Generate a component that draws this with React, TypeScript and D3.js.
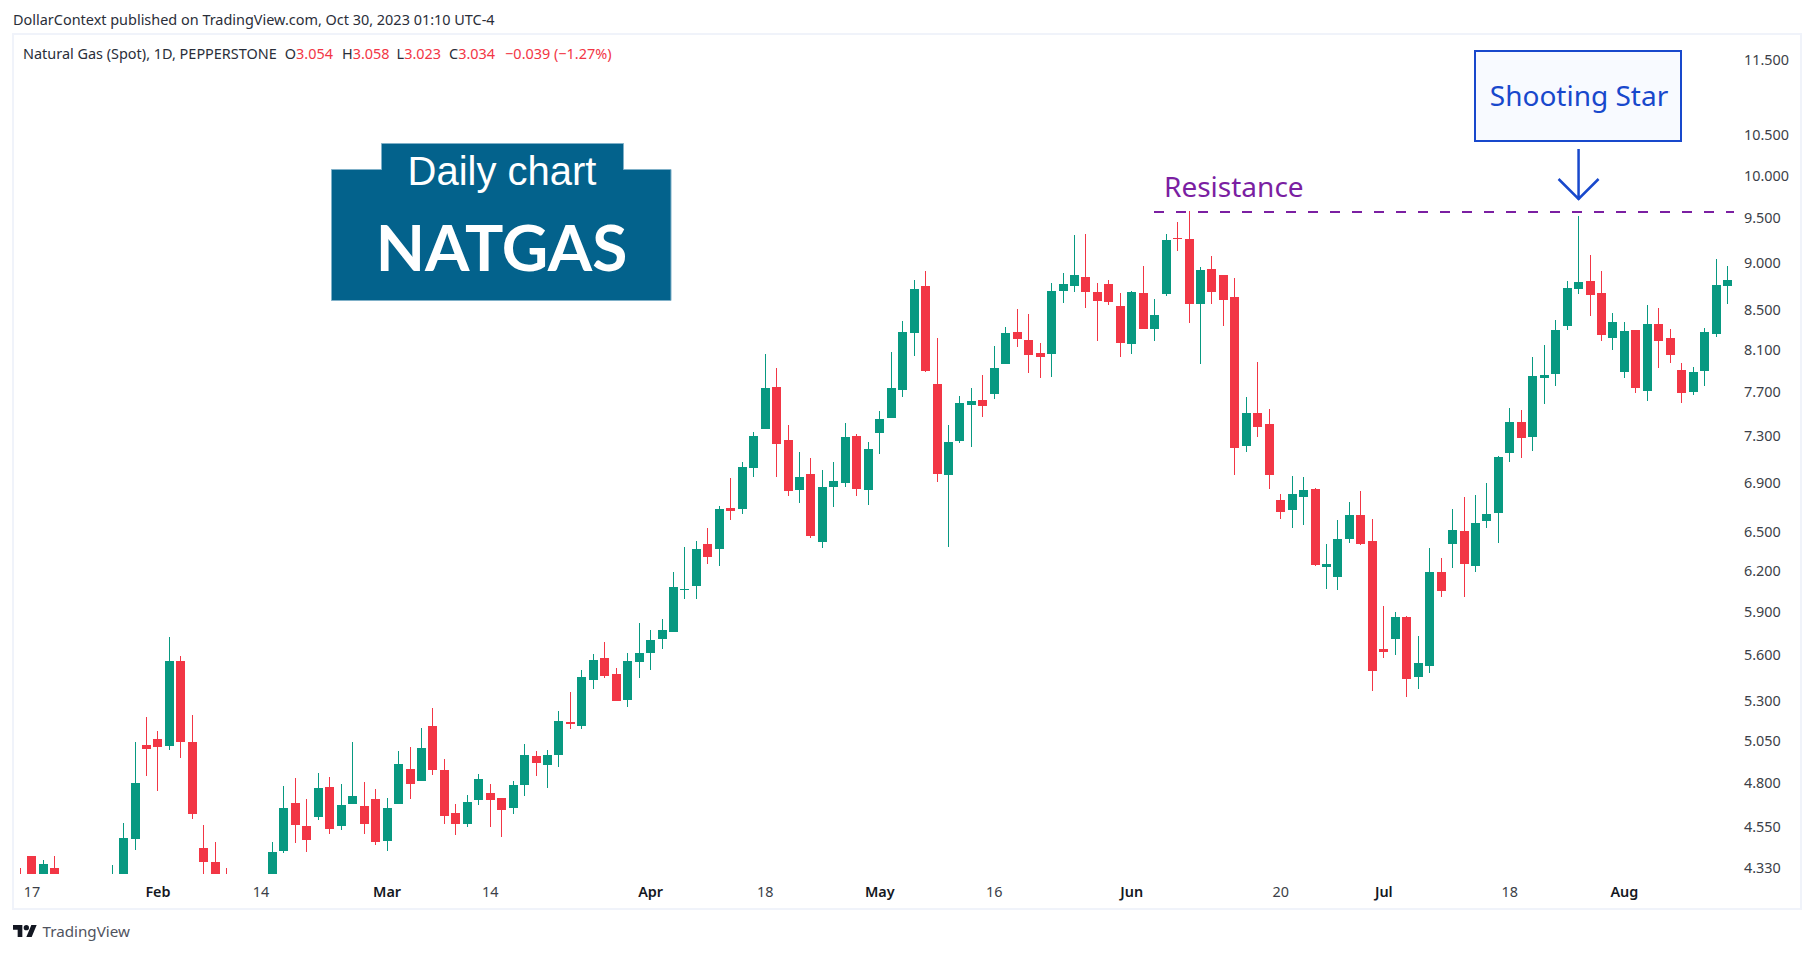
import { useEffect, useRef } from 'react';
import * as d3 from 'd3';

const opens = [
  4.272, 4.397, 4.262, 4.334, 4.26, 4.2, 4.16, 4.2, 4.21, 4.25,
  4.488, 5.029, 5.065, 5.023, 5.566, 5.047, 4.44, 4.365, 4.272, 4.24,
  4.2, 4.18, 4.272, 4.424, 4.688, 4.56, 4.61, 4.779, 4.56, 4.682,
  4.671, 4.711, 4.478, 4.682, 4.885, 4.814, 5.146, 4.879, 4.632, 4.571,
  4.705, 4.745, 4.716, 4.66, 4.791, 4.962, 4.908, 4.968, 5.171, 5.146,
  5.44, 5.587, 5.48, 5.31, 5.56, 5.621, 5.716, 5.764, 6.065, 6.094,
  6.411, 6.373, 6.696, 6.688, 7.028, 7.368, 7.751, 7.27, 6.844, 6.977,
  6.427, 6.869, 6.902, 7.305, 6.844, 7.332, 7.466, 7.723, 8.274, 8.757,
  7.779, 6.969, 7.261, 7.585, 7.631, 7.686, 7.97, 8.284, 8.204, 8.077,
  8.067, 8.705, 8.757, 8.853, 8.694, 8.778, 8.548, 8.165, 8.684, 8.314,
  8.673, 9.28, 9.269, 8.569, 8.94, 8.875, 8.642, 7.218, 7.512, 7.412,
  6.762, 6.68, 6.786, 6.852, 6.236, 6.16, 6.45, 6.64, 6.434, 5.648,
  5.716, 5.87, 5.46, 5.533, 6.198, 6.411, 6.513, 6.244, 6.592, 6.656,
  7.157, 7.43, 7.296, 7.836, 7.874, 8.344, 8.726, 8.81, 8.684, 8.224,
  7.893, 8.304, 7.714, 8.365, 8.224, 7.912, 7.705, 7.903, 8.264, 8.757,
];

const highs = [
  4.334, 4.397, 4.376, 4.397, 4.29, 4.25, 4.24, 4.28, 4.35, 4.576,
  5.047, 5.202, 5.115, 5.73, 5.6, 5.214, 4.565, 4.472, 4.334, 4.28,
  4.27, 4.26, 4.472, 4.785, 4.832, 4.711, 4.861, 4.838, 4.797, 5.047,
  4.808, 4.768, 4.716, 4.992, 5.016, 5.133, 5.259, 4.944, 4.682, 4.733,
  4.856, 4.797, 4.716, 4.814, 5.035, 4.992, 4.998, 5.24, 5.361, 5.506,
  5.614, 5.695, 5.519, 5.621, 5.828, 5.778, 5.856, 6.198, 6.388, 6.434,
  6.537, 6.713, 6.944, 7.08, 7.341, 8.067, 7.931, 7.403, 7.166, 7.114,
  7.011, 7.08, 7.421, 7.323, 7.253, 7.53, 8.087, 8.395, 8.821, 8.918,
  8.224, 7.403, 7.668, 7.742, 7.864, 8.145, 8.334, 8.517, 8.466, 8.175,
  8.789, 8.897, 9.314, 9.326, 8.789, 8.821, 8.684, 8.705, 8.972, 8.621,
  9.326, 9.462, 9.589, 8.961, 9.081, 8.875, 8.843, 7.659, 7.99, 7.548,
  6.811, 6.961, 6.952, 6.861, 6.411, 6.6, 6.746, 6.836, 6.608, 5.949,
  5.906, 5.877, 5.737, 6.38, 6.304, 6.688, 6.786, 6.803, 6.902, 7.131,
  7.557, 7.539, 8.038, 8.155, 8.405, 8.81, 9.531, 9.092, 8.918, 8.476,
  8.385, 8.304, 8.559, 8.528, 8.314, 7.98, 7.941, 8.324, 9.048, 8.972,
];

const lows = [
  4.23, 4.25, 4.24, 4.24, 4.18, 4.12, 4.1, 4.15, 4.19, 4.22,
  4.429, 4.844, 4.756, 4.998, 4.95, 4.599, 4.272, 4.24, 4.22, 4.17,
  4.14, 4.12, 4.25, 4.413, 4.467, 4.418, 4.593, 4.516, 4.538, 4.682,
  4.516, 4.456, 4.424, 4.682, 4.711, 4.814, 4.85, 4.571, 4.51, 4.554,
  4.677, 4.554, 4.499, 4.627, 4.728, 4.844, 4.774, 4.897, 5.127, 5.127,
  5.381, 5.453, 5.304, 5.265, 5.453, 5.506, 5.648, 5.764, 5.999, 5.999,
  6.259, 6.244, 6.6, 6.648, 6.952, 7.368, 6.952, 6.795, 6.737, 6.458,
  6.38, 6.705, 6.869, 6.795, 6.721, 7.149, 7.466, 7.659, 8.048, 7.893,
  6.91, 6.388, 7.244, 7.209, 7.475, 7.64, 7.97, 8.135, 7.884, 7.836,
  7.846, 8.58, 8.694, 8.528, 8.194, 8.559, 8.038, 8.067, 8.314, 8.194,
  8.652, 9.136, 8.375, 7.97, 8.569, 8.344, 6.969, 7.166, 7.296, 6.852,
  6.608, 6.537, 6.56, 6.244, 6.072, 6.065, 6.419, 6.403, 5.368, 5.587,
  5.607, 5.329, 5.381, 5.486, 6.014, 6.228, 6.014, 6.198, 6.537, 6.419,
  7.08, 7.114, 7.175, 7.594, 7.76, 8.304, 8.673, 8.446, 8.194, 8.106,
  7.836, 7.695, 7.622, 7.931, 7.98, 7.603, 7.677, 7.76, 8.234, 8.569,
];

const closes = [
  4.25, 4.272, 4.355, 4.272, 4.2, 4.16, 4.2, 4.24, 4.27, 4.494,
  4.803, 5.004, 5.016, 5.566, 5.047, 4.627, 4.365, 4.262, 4.24, 4.2,
  4.18, 4.24, 4.418, 4.66, 4.565, 4.483, 4.774, 4.544, 4.677, 4.728,
  4.571, 4.472, 4.66, 4.914, 4.797, 5.01, 4.879, 4.615, 4.571, 4.694,
  4.826, 4.705, 4.649, 4.791, 4.968, 4.92, 4.968, 5.177, 5.158, 5.46,
  5.573, 5.466, 5.304, 5.566, 5.621, 5.709, 5.778, 6.087, 6.072, 6.373,
  6.312, 6.688, 6.672, 7.037, 7.305, 7.742, 7.235, 6.836, 6.952, 6.474,
  6.869, 6.919, 7.296, 6.852, 7.192, 7.457, 7.742, 8.284, 8.726, 7.903,
  6.977, 7.253, 7.603, 7.622, 7.576, 7.931, 8.274, 8.214, 8.057, 8.038,
  8.705, 8.778, 8.875, 8.694, 8.601, 8.59, 8.175, 8.694, 8.314, 8.456,
  9.258, 9.269, 8.569, 8.929, 8.694, 8.611, 7.2, 7.512, 7.386, 6.969,
  6.664, 6.811, 6.844, 6.251, 6.259, 6.45, 6.64, 6.411, 5.499, 5.627,
  5.87, 5.447, 5.553, 6.198, 6.058, 6.521, 6.259, 6.576, 6.648, 7.123,
  7.43, 7.288, 7.855, 7.864, 8.304, 8.736, 8.8, 8.663, 8.254, 8.385,
  8.294, 7.742, 8.365, 8.194, 8.057, 7.695, 7.893, 8.284, 8.767, 8.821,
];

const priceTicks = [11.5, 10.5, 10, 9.5, 9, 8.5, 8.1, 7.7, 7.3, 6.9, 6.5, 6.2, 5.9, 5.6, 5.3, 5.05, 4.8, 4.55, 4.33];

// bar index of each time axis label, months are drawn bolder
const timeLabels = ['17', 'Feb', '14', 'Mar', '14', 'Apr', '18', 'May', '16', 'Jun', '20', 'Jul', '18', 'Aug'];
const timeIndex = [1, 12, 21, 32, 41, 55, 65, 75, 85, 97, 110, 119, 130, 140];

const resistance = 9.577;
const shootingStarIndex = 136;

const UP = '#089981';
const DOWN = '#f23645';
const PURPLE = '#7b1fa2';
const BLUE = '#1848cc';
const BADGE = '#03628c';
const TV_FONT = '"Noto Sans", sans-serif';

export default function App() {
  const svgRef = useRef<SVGSVGElement>(null);

  useEffect(() => {
    if (!svgRef.current) return;
    const svg = d3.select(svgRef.current);
    svg.selectAll('*').remove();

    const x = d3.scaleLinear().domain([0, opens.length - 1]).range([20.5, 1727.5]);
    const y = d3.scaleLog().domain([4.33, 11.5]).range([868.7, 60.7]);

    svg.append('rect').attr('width', 1814).attr('height', 953).attr('fill', '#fff');

    // chart frame
    svg.append('rect')
      .attr('x', 13).attr('y', 34)
      .attr('width', 1788).attr('height', 875)
      .attr('fill', 'none')
      .attr('stroke', '#f0f3fa')
      .attr('stroke-width', 2);

    svg.append('clipPath').attr('id', 'pane')
      .append('rect').attr('x', 14).attr('y', 35).attr('width', 1724).attr('height', 839);

    const pane = svg.append('g').attr('clip-path', 'url(#pane)').attr('shape-rendering', 'crispEdges');
    const color = (i: number) => (closes[i] >= opens[i] ? UP : DOWN);
    const left = (i: number) => Math.round(x(i) - 4.5);

    pane.selectAll('.wick')
      .data(d3.range(opens.length))
      .join('rect')
      .attr('class', 'wick')
      .attr('x', i => left(i) + 4)
      .attr('width', 1)
      .attr('y', i => y(highs[i]))
      .attr('height', i => y(lows[i]) - y(highs[i]))
      .attr('fill', color);

    pane.selectAll('.body')
      .data(d3.range(opens.length))
      .join('rect')
      .attr('class', 'body')
      .attr('x', left)
      .attr('width', 9)
      .attr('y', i => y(Math.max(opens[i], closes[i])))
      .attr('height', i => Math.max(1, Math.abs(y(opens[i]) - y(closes[i]))))
      .attr('fill', color);

    // price axis
    svg.selectAll('.price')
      .data(priceTicks)
      .join('text')
      .attr('class', 'price')
      .attr('x', 1744)
      .attr('y', d => y(d))
      .attr('dy', '0.3em')
      .attr('font-family', TV_FONT)
      .attr('font-size', 14.4)
      .attr('fill', '#3c3f48')
      .text(d => d.toFixed(3));

    // time axis
    svg.selectAll('.time')
      .data(timeLabels)
      .join('text')
      .attr('class', 'time')
      .attr('x', (_, i) => x(timeIndex[i]))
      .attr('y', 892)
      .attr('dy', '0.35em')
      .attr('text-anchor', 'middle')
      .attr('font-family', TV_FONT)
      .attr('font-size', 14.4)
      .attr('font-weight', d => (/\d/.test(d) ? 400 : 600))
      .attr('fill', d => (/\d/.test(d) ? '#3c3f48' : '#131722'))
      .text(d => d);

    // header lines
    svg.append('text')
      .attr('x', 13).attr('y', 24.5)
      .attr('font-family', TV_FONT).attr('font-size', 14.45).attr('fill', '#2a2e39')
      .text('DollarContext published on TradingView.com, Oct 30, 2023 01:10 UTC-4');

    const legend = svg.append('text')
      .attr('x', 23).attr('y', 58.5)
      .attr('font-family', TV_FONT).attr('font-size', 14.45).attr('fill', '#2a2e39');
    legend.append('tspan').text('Natural Gas (Spot), 1D, PEPPERSTONE');
    const legendGaps = [8, 9, 7, 8];
    [['O', '3.054'], ['H', '3.058'], ['L', '3.023'], ['C', '3.034']].forEach(([k, v], i) => {
      legend.append('tspan').attr('dx', legendGaps[i]).text(k);
      legend.append('tspan').attr('fill', DOWN).text(v);
    });
    legend.append('tspan').attr('dx', 10).attr('fill', DOWN).text('\u22120.039 (\u22121.27%)');

    // badge
    const badgeLine = d3.line();
    svg.append('path')
      .attr('d', badgeLine([[331.5, 169.5], [381.5, 169.5], [381.5, 143.5], [623.5, 143.5], [623.5, 169.5], [671, 169.5], [671, 300.5], [331.5, 300.5]]) + 'Z')
      .attr('fill', BADGE)
      .attr('stroke', '#7fb0c8')
      .attr('stroke-width', 1);
    svg.append('text')
      .attr('x', 502).attr('y', 185)
      .attr('text-anchor', 'middle')
      .attr('font-family', '"Liberation Sans", sans-serif')
      .attr('font-size', 40)
      .attr('fill', '#fff')
      .text('Daily chart');
    svg.append('text')
      .attr('x', 501.5).attr('y', 271)
      .attr('text-anchor', 'middle')
      .attr('font-family', 'Lato, sans-serif')
      .attr('font-weight', 700)
      .attr('font-size', 64)
      .attr('fill', '#fff')
      .text('NATGAS');

    // resistance
    svg.append('line')
      .attr('x1', 1154).attr('x2', 1734)
      .attr('y1', y(resistance)).attr('y2', y(resistance))
      .attr('stroke', PURPLE)
      .attr('stroke-width', 2)
      .attr('stroke-dasharray', '10 12');
    svg.append('text')
      .attr('x', 1164).attr('y', 197)
      .attr('font-family', TV_FONT)
      .attr('font-size', 28)
      .attr('fill', PURPLE)
      .text('Resistance');

    // shooting star callout
    const arrowX = x(shootingStarIndex);
    svg.append('rect')
      .attr('x', 1475).attr('y', 51)
      .attr('width', 206).attr('height', 90)
      .attr('fill', '#f8faff')
      .attr('stroke', BLUE)
      .attr('stroke-width', 2);
    svg.append('text')
      .attr('x', 1579).attr('y', 106)
      .attr('text-anchor', 'middle')
      .attr('font-family', TV_FONT)
      .attr('font-size', 28)
      .attr('fill', BLUE)
      .text('Shooting Star');
    svg.append('path')
      .attr('d', `M${arrowX},149V200M${arrowX - 20},179L${arrowX},199L${arrowX + 20},179`)
      .attr('fill', 'none')
      .attr('stroke', BLUE)
      .attr('stroke-width', 2.5);

    // TradingView mark
    const logo = svg.append('g').attr('transform', 'translate(13,922.3) scale(0.667)').attr('fill', '#131722');
    logo.append('path').attr('d', 'M14 22H7V11H0V4h14v18zM28 22h-8l7.5-18h8L28 22z');
    logo.append('circle').attr('cx', 20).attr('cy', 8).attr('r', 4);
    svg.append('text')
      .attr('x', 42.5).attr('y', 937)
      .attr('font-family', TV_FONT)
      .attr('font-size', 15.2)
      .attr('fill', '#50535e')
      .text('TradingView');
  }, []);

  return <svg ref={svgRef} width={1814} height={953} style={{ position: 'fixed', left: 0, top: 0, display: 'block' }} />;
}
